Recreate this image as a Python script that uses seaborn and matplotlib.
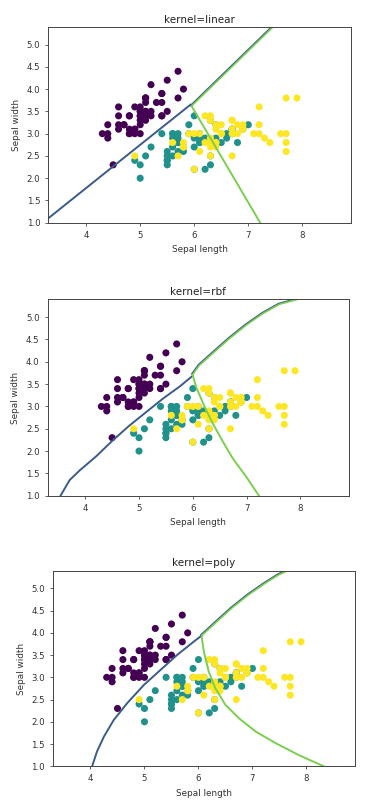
import matplotlib
matplotlib.use("Agg")
import matplotlib.pyplot as plt
import seaborn as sns
import numpy as np
import pandas as pd

# Iris sepal measurements (length, width) per species
setosa_len = [5.1, 4.9, 4.7, 4.6, 5.0, 5.4, 4.6, 5.0, 4.4, 4.9, 5.4, 4.8, 4.8, 4.3, 5.8, 5.7, 5.4,
              5.1, 5.7, 5.1, 5.4, 5.1, 4.6, 5.1, 4.8, 5.0, 5.0, 5.2, 5.2, 4.7, 4.8, 5.4, 5.2, 5.5,
              4.9, 5.0, 5.5, 4.9, 4.4, 5.1, 5.0, 4.5, 4.4, 5.0, 5.1, 4.8, 5.1, 4.6, 5.3, 5.0]
setosa_wid = [3.5, 3.0, 3.2, 3.1, 3.6, 3.9, 3.4, 3.4, 2.9, 3.1, 3.7, 3.4, 3.0, 3.0, 4.0, 4.4, 3.9,
              3.5, 3.8, 3.8, 3.4, 3.7, 3.6, 3.3, 3.4, 3.0, 3.4, 3.5, 3.4, 3.2, 3.1, 3.4, 4.1, 4.2,
              3.1, 3.2, 3.5, 3.6, 3.0, 3.4, 3.5, 2.3, 3.2, 3.5, 3.8, 3.0, 3.8, 3.2, 3.7, 3.3]
versi_len = [7.0, 6.4, 6.9, 5.5, 6.5, 5.7, 6.3, 4.9, 6.6, 5.2, 5.0, 5.9, 6.0, 6.1, 5.6, 6.7, 5.6,
             5.8, 6.2, 5.6, 5.9, 6.1, 6.3, 6.1, 6.4, 6.6, 6.8, 6.7, 6.0, 5.7, 5.5, 5.5, 5.8, 6.0,
             5.4, 6.0, 6.7, 6.3, 5.6, 5.5, 5.5, 6.1, 5.8, 5.0, 5.6, 5.7, 5.7, 6.2, 5.1, 5.7]
versi_wid = [3.2, 3.2, 3.1, 2.3, 2.8, 2.8, 3.3, 2.4, 2.9, 2.7, 2.0, 3.0, 2.2, 2.9, 2.9, 3.1, 3.0,
             2.7, 2.2, 2.5, 3.2, 2.8, 2.5, 2.8, 2.9, 3.0, 2.8, 3.0, 2.9, 2.6, 2.4, 2.4, 2.7, 2.7,
             3.0, 3.4, 3.1, 2.3, 3.0, 2.5, 2.6, 3.0, 2.6, 2.3, 2.7, 3.0, 2.9, 2.9, 2.5, 2.8]
virg_len = [6.3, 5.8, 7.1, 6.3, 6.5, 7.6, 4.9, 7.3, 6.7, 7.2, 6.5, 6.4, 6.8, 5.7, 5.8, 6.4, 6.5,
            7.7, 7.7, 6.0, 6.9, 5.6, 7.7, 6.3, 6.7, 7.2, 6.2, 6.1, 6.4, 7.2, 7.4, 7.9, 6.4, 6.3,
            6.1, 7.7, 6.3, 6.4, 6.0, 6.9, 6.7, 6.9, 5.8, 6.8, 6.7, 6.7, 6.3, 6.5, 6.2, 5.9]
virg_wid = [3.3, 2.7, 3.0, 2.9, 3.0, 3.0, 2.5, 2.9, 2.5, 3.6, 3.2, 2.7, 3.0, 2.5, 2.8, 3.2, 3.0,
            3.8, 2.6, 2.2, 3.2, 2.8, 2.8, 2.7, 3.3, 3.2, 2.8, 3.0, 2.8, 3.0, 2.8, 3.8, 2.8, 2.8,
            2.6, 3.0, 3.4, 3.1, 3.0, 3.1, 3.1, 3.1, 2.7, 3.2, 3.3, 3.0, 2.5, 3.0, 3.4, 3.0]

kernels = ["linear", "rbf", "poly"]

# Decision boundaries (x, y), per kernel
# low: class 0 | class 1, up: class 0 | class 2, down: class 1 | class 2
low_x = {"linear": [3.3, 5.0, 5.93],
         "rbf": [3.54, 3.71, 3.90, 4.21, 4.52, 4.83, 5.14, 5.45, 5.76, 5.99],
         "poly": [4.03, 4.12, 4.25, 4.43, 4.68, 4.99, 5.30, 5.61, 5.92, 6.06]}
low_y = {"linear": [1.1, 2.75, 3.65],
         "rbf": [1.0, 1.35, 1.57, 1.89, 2.25, 2.58, 2.88, 3.18, 3.45, 3.68],
         "poly": [1.0, 1.33, 1.67, 2.04, 2.42, 2.83, 3.17, 3.51, 3.81, 3.94]}
up_x = {"linear": [5.95, 7.46],
        "rbf": [6.0, 6.12, 6.37, 6.68, 6.99, 7.30, 7.61, 7.95],
        "poly": [6.06, 6.31, 6.62, 6.93, 7.24, 7.49, 7.65]}
up_y = {"linear": [3.62, 5.4],
        "rbf": [3.72, 3.92, 4.19, 4.52, 4.82, 5.08, 5.29, 5.40],
        "poly": [3.94, 4.22, 4.56, 4.86, 5.12, 5.31, 5.40]}
down_x = {"linear": [5.96, 7.22],
          "rbf": [6.0, 6.06, 6.22, 6.37, 6.56, 6.74, 6.99, 7.23],
          "poly": [6.06, 6.10, 6.19, 6.31, 6.50, 6.75, 7.06, 7.43, 7.86, 8.32]}
down_y = {"linear": [3.6, 1.0],
          "rbf": [3.70, 3.44, 2.99, 2.62, 2.21, 1.84, 1.43, 1.0],
          "poly": [3.90, 3.58, 3.13, 2.76, 2.38, 2.08, 1.78, 1.52, 1.25, 1.0]}

df = pd.DataFrame({
    "length": setosa_len + versi_len + virg_len,
    "width": setosa_wid + versi_wid + virg_wid,
    "target": [0] * 50 + [1] * 50 + [2] * 50,
})

plt.rcParams.update({
    "font.family": "DejaVu Sans",
    "font.size": 6.2,
    "axes.edgecolor": "#444444",
    "axes.linewidth": 0.7,
    "xtick.color": "#444444",
    "ytick.color": "#444444",
    "xtick.labelcolor": "#333333",
    "ytick.labelcolor": "#333333",
    "xtick.major.size": 2.2,
    "ytick.major.size": 2.2,
    "xtick.major.width": 0.6,
    "ytick.major.width": 0.6,
})

fig = plt.figure(figsize=(3.66, 8.10), dpi=100)
boxes = [(0.132, 0.725, 0.827, 0.242), (0.130, 0.388, 0.823, 0.2425), (0.144, 0.054, 0.826, 0.2415)]
palette = {0: "#440154", 1: "#21918c", 2: "#fde725"}
blue, green = "#3b5b8a", "#7acf4f"

for k, box in zip(kernels, boxes):
    ax = fig.add_axes(box)
    sns.scatterplot(data=df, x="length", y="width", hue="target", palette=palette,
                    s=26, linewidth=0, legend=False, ax=ax)
    sns.lineplot(x=low_x[k], y=low_y[k], sort=False, estimator=None, color=blue, lw=1.4, ax=ax)
    sns.lineplot(x=np.array(up_x[k]) - 0.012, y=np.array(up_y[k]) + 0.012, sort=False,
                 estimator=None, color=blue, lw=1.4, ax=ax)
    sns.lineplot(x=up_x[k], y=up_y[k], sort=False, estimator=None, color=green, lw=1.2, ax=ax)
    sns.lineplot(x=down_x[k], y=down_y[k], sort=False, estimator=None, color=green, lw=1.4, ax=ax)
    ax.set_xlim(3.3, 8.9)
    ax.set_ylim(1.0, 5.4)
    ax.set_xticks([4, 5, 6, 7, 8])
    ax.set_yticks(np.arange(1.0, 5.01, 0.5))
    ax.set_xlabel("Sepal length", fontsize=6.4, color="#333333")
    ax.set_ylabel("Sepal width", fontsize=6.4, color="#333333")
    ax.set_title("kernel=" + k, fontsize=7.5, color="#222222", pad=3)

fig.savefig("out.png", dpi=100)
